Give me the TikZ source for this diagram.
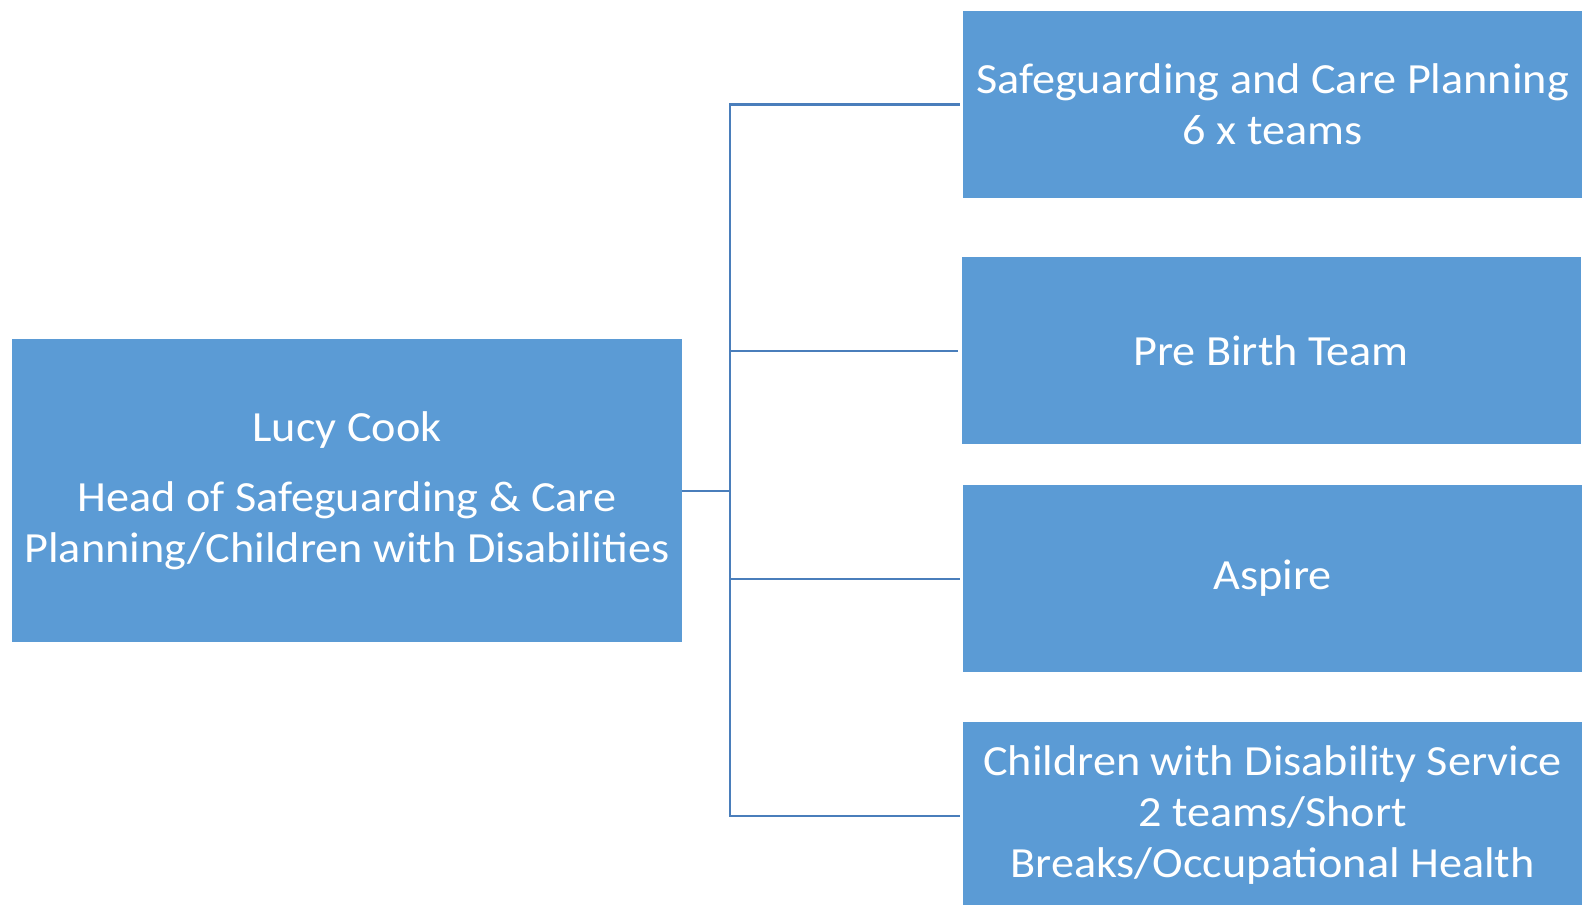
\documentclass[tikz,border=0pt]{standalone}
\usepackage{fontspec}
\setmainfont{Carlito}[FakeStretch=1.075]
\usetikzlibrary{positioning}
\definecolor{boxblue}{HTML}{5B9BD5}
\definecolor{linkblue}{HTML}{4A7EBB}

\begin{document}
\begin{tikzpicture}[
    x=0.5pt, y=-0.5pt,
    unit/.style={rectangle, fill=boxblue, inner sep=0pt, minimum width=309.5pt, minimum height=93.5pt, align=center, text=white, font=\fontsize{21.5}{25.5}\selectfont},
    head/.style={unit, minimum width=335pt, minimum height=151.5pt},
    link/.style={draw=linkblue, line width=1pt}
]
\useasboundingbox (0,0) rectangle (1582,904);
% Head of service
\node[head] (lucy) at (347,490.5) {Lucy Cook\\[9.5pt]Head of Safeguarding \& Care\\Planning/Children with Disabilities};
% Teams
\node[unit] (sgcp) at (1272.5,104.5) {Safeguarding and Care Planning\\6 x teams};
\node[unit] (prebirth) at (1271,350.5) {Pre Birth Team};
\node[unit] (aspire) at (1272.5,578.5) {Aspire};
\node[unit] (cwd) at (1272.5,815.5) {Children with Disability Service\\2 teams/Short\\Breaks/Occupational Health};
% Connectors
\coordinate (trunk) at (730,490.5);
\draw[link] (lucy.east) -- (trunk);
\foreach \team in {sgcp, prebirth, aspire, cwd}
    \draw[link] (trunk) |- ([xshift=-1.5pt]\team.west);
\end{tikzpicture}
\end{document}
